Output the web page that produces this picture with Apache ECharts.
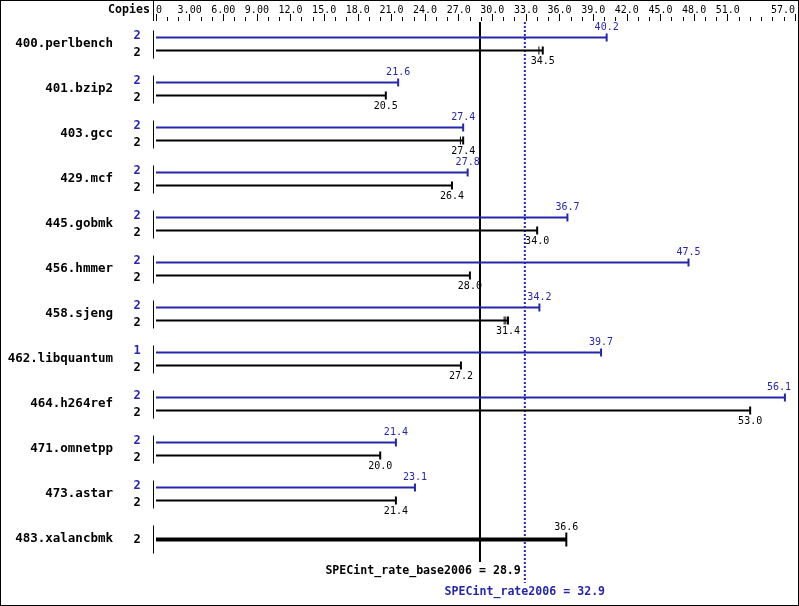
<!DOCTYPE html>
<html><head><meta charset="utf-8">
<script src="https://cdn.jsdelivr.net/npm/echarts@6/dist/echarts.min.js"></script>
<style>
html,body{margin:0;padding:0;background:#fff;}
#c{position:absolute;left:0;top:0;width:799px;height:606px;}
#frame{position:absolute;left:0;top:0;width:797px;height:604px;border:1px solid #000;pointer-events:none;}
</style></head>
<body><div id="c"></div><div id="frame"></div>
<script>
const benchmarks = ['400.perlbench','401.bzip2','403.gcc','429.mcf','445.gobmk','456.hmmer','458.sjeng','462.libquantum','464.h264ref','471.omnetpp','473.astar','483.xalancbmk'];
const peakValues = [40.2, 21.6, 27.4, 27.8, 36.7, 47.5, 34.2, 39.7, 56.1, 21.4, 23.1, null];
const baseValues = [34.5, 20.5, 27.4, 26.4, 34.0, 28.0, 31.4, 27.2, 53.0, 20.0, 21.4, 36.6];
const peakCopies = [2, 2, 2, 2, 2, 2, 2, 1, 2, 2, 2, null];
const baseCopies = [2, 2, 2, 2, 2, 2, 2, 2, 2, 2, 2, 2];
const baseOtherRuns = [[34.2], [], [27.2], [], [], [], [31.1, 31.25], [], [], [], [], []];
const majorTicks = [0, 3, 6, 9, 12, 15, 18, 21, 24, 27, 30, 33, 36, 39, 42, 45, 48, 51, 57];
const baseMean = 28.9;
const peakMean = 32.9;
const baseMeanLabel = 'SPECint_rate_base2006 = 28.9';
const peakMeanLabel = 'SPECint_rate2006 = 32.9';

const BLUE = '#2626ad';
const MONO = '"DejaVu Sans Mono", "Liberation Mono", monospace';

function fmtTick(v){ if(v===0) return '0'; return v<10 ? v.toFixed(2) : v.toFixed(1); }

const chart = echarts.init(document.getElementById('c'), null, {renderer:'canvas'});

function peakRender(params, api){
  const idx = api.value(0);
  const val = api.value(1);
  const copies = api.value(2);
  const c0 = api.coord([0, idx]);
  const cs = params.coordSys;
  const children = [];
  const x0 = c0[0], yc = c0[1];
  children.push({type:'rect', shape:{x:x0-3, y:yc-13, width:1, height:28}, style:{fill:'#000'}});
  if (val == null || isNaN(val)) return {type:'group', children};
  const y = yc - 6;
  const x1 = api.coord([val, idx])[0];
  const lx = Math.min(x1, cs.x + cs.width - 16);
  children.push({type:'rect', shape:{x:x0, y:y-1, width:x1-x0, height:2}, style:{fill:BLUE}});
  children.push({type:'rect', shape:{x:x1-1, y:y-4, width:2, height:8}, style:{fill:BLUE}});
  children.push({type:'text', x:lx, y:y-10, style:{text:val.toFixed(1), fill:BLUE, font:'10px '+MONO, align:'center', verticalAlign:'middle'}});
  children.push({type:'text', x:x0-19, y:y-2, style:{text:String(copies), fill:BLUE, font:'bold 12px '+MONO, align:'center', verticalAlign:'middle'}});
  return {type:'group', children};
}

function baseRender(params, api){
  const idx = api.value(0);
  const val = api.value(1);
  const copies = api.value(2);
  const single = api.value(3) === 1;
  const c0 = api.coord([0, idx]);
  const x0 = c0[0], yc = c0[1];
  const x1 = api.coord([val, idx])[0];
  const children = [];
  if (single){
    const y = yc + 1;
    children.push({type:'rect', shape:{x:x0, y:y-2, width:x1-x0, height:4}, style:{fill:'#000'}});
    children.push({type:'rect', shape:{x:x1-1, y:y-7, width:2, height:14}, style:{fill:'#000'}});
    children.push({type:'text', x:x1, y:y-12, style:{text:val.toFixed(1), fill:'#000', font:'10px '+MONO, align:'center', verticalAlign:'middle'}});
    children.push({type:'text', x:x0-19, y:y, style:{text:String(copies), fill:'#000', font:'bold 12px '+MONO, align:'center', verticalAlign:'middle'}});
  } else {
    const y = yc + 7;
    children.push({type:'rect', shape:{x:x0, y:y-1, width:x1-x0, height:2}, style:{fill:'#000'}});
    children.push({type:'rect', shape:{x:x1-1, y:y-4, width:2, height:8}, style:{fill:'#000'}});
    (baseOtherRuns[idx]||[]).forEach(function(r){
      const xr = api.coord([r, idx])[0];
      children.push({type:'rect', shape:{x:xr-1, y:y-4, width:1, height:8}, style:{fill:'#000'}});
    });
    children.push({type:'text', x:x1, y:y+11, style:{text:val.toFixed(1), fill:'#000', font:'10px '+MONO, align:'center', verticalAlign:'middle'}});
    children.push({type:'text', x:x0-19, y:y+2, style:{text:String(copies), fill:'#000', font:'bold 12px '+MONO, align:'center', verticalAlign:'middle'}});
  }
  return {type:'group', children};
}

function refRender(params, api){
  const cs = params.coordSys;
  const which = api.value(1);
  const v = api.value(0);
  const x = api.coord([v, 0])[0];
  const top = cs.y + 1;
  const bottom = cs.y + cs.height;
  if (which === 0){
    return {type:'group', children:[
      {type:'line', shape:{x1:x, y1:top, x2:x, y2:bottom+1}, style:{stroke:'#000', lineWidth:2}},
      {type:'text', x:api.coord([peakMean,0])[0]-4, y:bottom+10, style:{text:baseMeanLabel, fill:'#000', font:'bold 11.6px '+MONO, align:'right', verticalAlign:'middle'}}
    ]};
  }
  return {type:'group', children:[
    {type:'line', shape:{x1:x, y1:top, x2:x, y2:bottom+22}, style:{stroke:BLUE, lineWidth:2, lineDash:[2,2]}},
    {type:'text', x:x, y:bottom+31, style:{text:peakMeanLabel, fill:BLUE, font:'bold 11.6px '+MONO, align:'center', verticalAlign:'middle'}}
  ]};
}

const peakData = benchmarks.map((b,i)=>[i, peakValues[i]==null? NaN : peakValues[i], peakCopies[i]==null?0:peakCopies[i]]);
const baseData = benchmarks.map((b,i)=>[i, baseValues[i], baseCopies[i], peakValues[i]==null?1:0]);

chart.setOption({
  animation:false,
  backgroundColor:'#fff',
  grid:{left:156, right:4, top:21, height:540, containLabel:false, outerBoundsMode:'none'},
  xAxis:[
    {type:'value', position:'top', min:0, max:57, interval:1,
     axisLine:{show:false}, splitLine:{show:false},
     axisTick:{show:true, length:4, lineStyle:{color:'#000', width:1}},
     axisLabel:{show:false}},
    {type:'value', position:'top', min:0, max:57, interval:3,
     axisLine:{show:false}, splitLine:{show:false},
     axisTick:{show:true, length:7, customValues:majorTicks, lineStyle:{color:'#000', width:1}},
     axisLabel:{show:true, customValues:majorTicks, margin:6, color:'#000', fontFamily:MONO, fontSize:10, formatter:fmtTick, alignMinLabel:'left', alignMaxLabel:'right', hideOverlap:false}}
  ],
  yAxis:{type:'category', inverse:true, data:benchmarks,
    axisLine:{show:false}, axisTick:{show:false}, splitLine:{show:false},
    axisLabel:{margin:43, color:'#000', fontFamily:MONO, fontWeight:'bold', fontSize:12.5}},
  graphic:[
    {type:'text', left:108, top:4, style:{text:'Copies', fill:'#000', font:'bold 11.6px '+MONO}},
    {type:'rect', shape:{x:153, y:0, width:1, height:21}, style:{fill:'#000'}}
  ],
  series:[
    {type:'custom', name:'peak', renderItem:peakRender, data:peakData, xAxisIndex:0, yAxisIndex:0, encode:{x:1,y:0}},
    {type:'custom', name:'base', renderItem:baseRender, data:baseData, xAxisIndex:0, yAxisIndex:0, encode:{x:1,y:0}},
    {type:'custom', name:'ref', renderItem:refRender, data:[[baseMean,0],[peakMean,1]], xAxisIndex:0, yAxisIndex:0, encode:{x:0}, z:1}
  ]
});
</script></body></html>
